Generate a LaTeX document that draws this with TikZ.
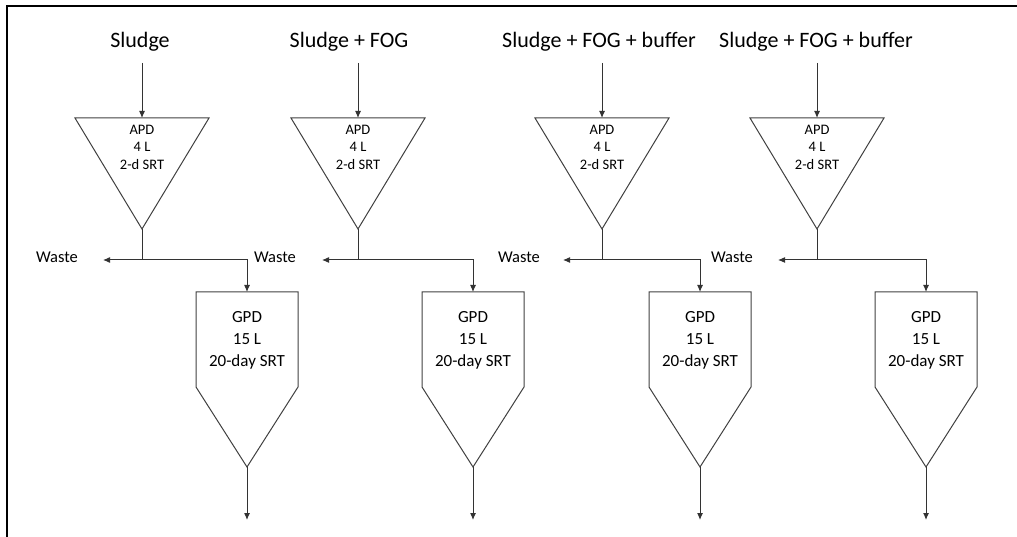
\documentclass[tikz,border=0pt]{standalone}
\usepackage{fontspec}
\setmainfont{Carlito}
\usetikzlibrary{arrows.meta}
\tikzset{
  shp/.style={draw=black!75, line width=1pt, line join=miter},
  conn/.style={draw=black!80, line width=1pt},
  arr/.style={conn, -{Latex[length=7pt,width=6pt]}},
  feedlbl/.style={font=\fontsize{22}{26}\selectfont, inner sep=0pt},
  wastelbl/.style={font=\fontsize{16.5}{20}\selectfont, inner sep=0pt},
  apdtxt/.style={font=\fontsize{14.5}{17.5}\selectfont, align=center, inner sep=0pt},
  gpdtxt/.style={font=\fontsize{17}{22}\selectfont, align=center, inner sep=0pt},
}
\newcommand{\digunit}[7]{%
  % #1 label x, #2 apd x, #3 gpd x, #4 waste label x, #5 waste tip x, #6 label, #7 id
  \node[feedlbl] (feed#7) at (#1,42) {#6};
  \coordinate (feedend#7) at (#2,63);
  \coordinate (apdtop#7) at (#2,118);
  \coordinate (apdapex#7) at (#2,229);
  \draw[shp] (#2-67,118) -- (#2+67,118) -- (apdapex#7) -- cycle;
  \node[apdtxt] (apd#7) at (#2,147) {APD\\4 L\\2-d SRT};
  \coordinate (split#7) at (#2,260);
  \coordinate (tip#7) at (#5,260);
  \coordinate (turn#7) at (#3,260);
  \node[wastelbl] (waste#7) at (#4,257) {Waste};
  \coordinate (gpdtop#7) at (#3,292);
  \coordinate (gpdapex#7) at (#3,467);
  \coordinate (out#7) at (#3,520);
  \draw[shp] (#3-51,387) -- (#3-51,292) -- (#3+51,292) -- (#3+51,387) -- (gpdapex#7) -- cycle;
  \node[gpdtxt] (gpd#7) at (#3,340) {GPD\\15 L\\20-day SRT};
  \draw[arr] (feedend#7) -- (apdtop#7);
  \draw[conn] (apdapex#7) -- (split#7);
  \draw[arr] (split#7) -- (tip#7);
  \draw[arr] (split#7) -- (turn#7) -- (gpdtop#7);
  \draw[arr] (gpdapex#7) -- (out#7);
}
\begin{document}
\begin{tikzpicture}[x=1pt,y=-1pt]
\useasboundingbox (0,0) rectangle (1017,537);
\draw[line width=2pt] (7,537) -- (7,6) -- (1017,6);
\digunit{140}{142}{247}{57}{103}{Sludge}{a}
\digunit{349}{358}{473}{275}{322}{Sludge + FOG}{b}
\digunit{599}{602}{700}{519}{563}{Sludge + FOG + buffer}{c}
\digunit{816}{817}{926}{732}{778}{Sludge + FOG + buffer}{d}
\end{tikzpicture}
\end{document}
